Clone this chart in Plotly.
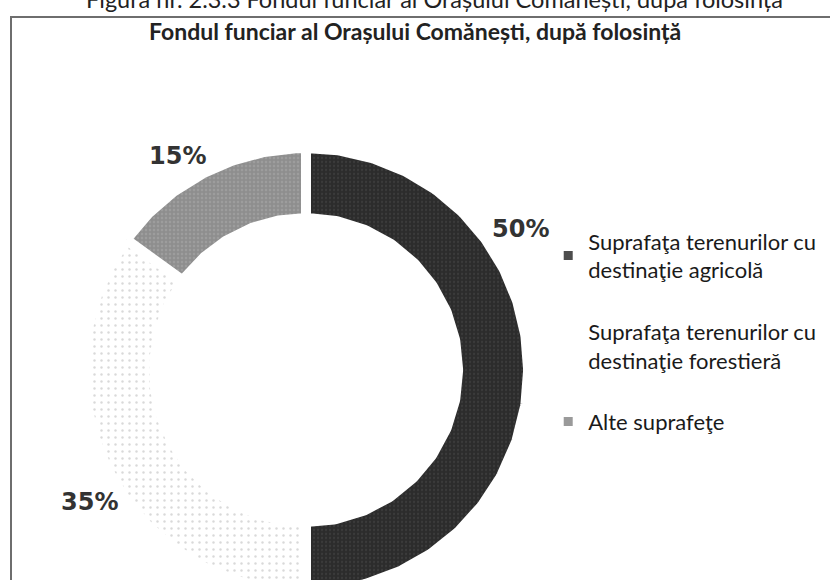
import numpy as np
import plotly.graph_objects as go

# ---- data ----
categories = [
    "Suprafaţa terenurilor cu<br>destinaţie agricolă",
    "Suprafaţa terenurilor cu<br>destinaţie forestieră",
    "Alte suprafeţe",
]
shares = [50, 35, 15]
title_text = "Fondul funciar al Orașului Comănești, după folosință"
caption_text = "Figura nr. 2.3.3 Fondul funciar al Orașului Comănești, după folosință"

# ---- styles ----
fill_bg = ["#2c2c2c", "#ffffff", "#8e8e8e"]
fill_fg = ["#4a4a4a", "#b4b4b4", "#acacac"]
fill_size = [4, 7, 4]
fill_sol = [0.25, 0.1, 0.3]
legend_marker = ["#4d4d4d", "#ffffff", "#9a9a9a"]
label_pos = [(0.964, 0.635), (-0.977, -0.595), (-0.577, 0.964)]  # layout positions of % labels

R_OUT, R_IN = 1.0, 0.685
total = float(sum(shares))

fig = go.Figure()

start = 0.0
for i, (cat, v) in enumerate(zip(categories, shares)):
    a0 = start / total * 2 * np.pi
    a1 = (start + v) / total * 2 * np.pi
    th = np.linspace(a0, a1, 240)
    xo, yo = R_OUT * np.sin(th), R_OUT * np.cos(th)
    xi, yi = R_IN * np.sin(th[::-1]), R_IN * np.cos(th[::-1])
    x = np.concatenate([xo, xi, xo[:1]])
    y = np.concatenate([yo, yi, yo[:1]])
    fig.add_trace(go.Scatter(
        x=x, y=y, mode="lines", fill="toself",
        fillcolor=fill_bg[i],
        fillpattern=dict(shape=".", fgcolor=fill_fg[i], bgcolor=fill_bg[i],
                         size=fill_size[i], solidity=fill_sol[i]),
        line=dict(color="white", width=10),
        showlegend=False, hoverinfo="skip",
    ))
    start += v

for i, cat in enumerate(categories):
    fig.add_trace(go.Scatter(
        x=[None], y=[None], mode="markers", name=cat,
        legendgroup=f"g{i}",
        marker=dict(symbol="square", size=9, color=legend_marker[i],
                    line=dict(width=0)),
    ))

for (lx, ly), v in zip(label_pos, shares):
    fig.add_annotation(
        x=lx, y=ly, xref="x", yref="y", text=f"{v}%", showarrow=False,
        font=dict(family="DejaVu Sans", size=24, color="#333333", weight="bold"),
    )

fig.add_annotation(
    x=434 / 830, y=1.0, xref="paper", yref="paper", text=caption_text,
    showarrow=False, xanchor="center", yanchor="middle", yshift=1,
    font=dict(family="Lato", size=23.5, color="#222222"),
)

fig.add_annotation(
    x=415 / 830, y=1 - 31 / 580, xref="paper", yref="paper", text=title_text,
    showarrow=False, xanchor="center", yanchor="middle",
    font=dict(family="Lato", size=23, color="#222222", weight="bold"),
)

fig.add_shape(type="rect", xref="paper", yref="paper",
              x0=11 / 830, x1=1.05, y0=-0.05, y1=1 - 17 / 580,
              line=dict(color="#6e6e6e", width=2), layer="below")

fig.update_layout(
    width=830, height=580,
    margin=dict(l=0, r=0, t=0, b=0),
    paper_bgcolor="white", plot_bgcolor="white",
    xaxis=dict(range=[-1.378, 2.360], visible=False, fixedrange=True),
    yaxis=dict(range=[-0.946, 1.667], visible=False, fixedrange=True),
    legend=dict(x=0.6605, y=0.62, xanchor="left", yanchor="top",
                font=dict(family="Lato", size=22, color="#1a1a1a"),
                tracegroupgap=30, bgcolor="rgba(0,0,0,0)"),
    showlegend=True,
)

fig.write_html("out.html", config={"displayModeBar": False},
               post_script="document.body.style.margin='0';")
